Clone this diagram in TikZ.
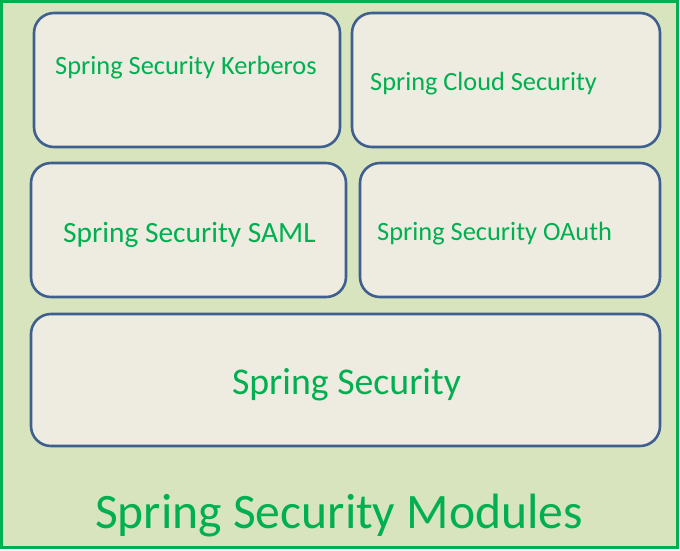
\documentclass[tikz,border=0pt]{standalone}
\usepackage{fontspec}
\setmainfont{Carlito}
\definecolor{outerfill}{HTML}{D7E4BD}
\definecolor{outerline}{HTML}{00B050}
\definecolor{boxfill}{HTML}{EEECE1}
\definecolor{boxline}{HTML}{3F5F8F}
\definecolor{txt}{HTML}{00B050}
\begin{document}
\begin{tikzpicture}[x=1pt,y=-1pt,
  modbox/.style={draw=boxline,fill=boxfill,line width=2.6pt,rounded corners=20pt},
  lbl/.style={text=txt,inner sep=0pt,anchor=west}]
\useasboundingbox (0,0) rectangle (680,550);
\draw[draw=outerline,fill=outerfill,line width=3pt] (1.5,1.5) rectangle (677.5,547.5);
\draw[modbox] (34,13) rectangle (340,147);
\draw[modbox] (352,13) rectangle (660,147);
\draw[modbox] (31,163) rectangle (346,297);
\draw[modbox] (360,163) rectangle (660,297);
\draw[modbox] (31,314) rectangle (660,446);
\node[lbl,font=\fontsize{26.4}{30}\selectfont] (kerb) at (55,68) {Spring Security Kerberos};
\node[lbl,font=\fontsize{26.3}{30}\selectfont] (cloud) at (370,84) {Spring Cloud Security};
\node[lbl,font=\fontsize{29.4}{34}\selectfont] (saml) at (63,235) {Spring Security SAML};
\node[lbl,font=\fontsize{26.4}{30}\selectfont] (oauth) at (377,234) {Spring Security OAuth};
\node[text=txt,inner sep=0pt,font=\fontsize{37.8}{44}\selectfont] (core) at (346.5,385) {Spring Security};
\node[text=txt,inner sep=0pt,font=\fontsize{49.6}{58}\selectfont] (mods) at (339,516) {Spring Security Modules};
\end{tikzpicture}
\end{document}
